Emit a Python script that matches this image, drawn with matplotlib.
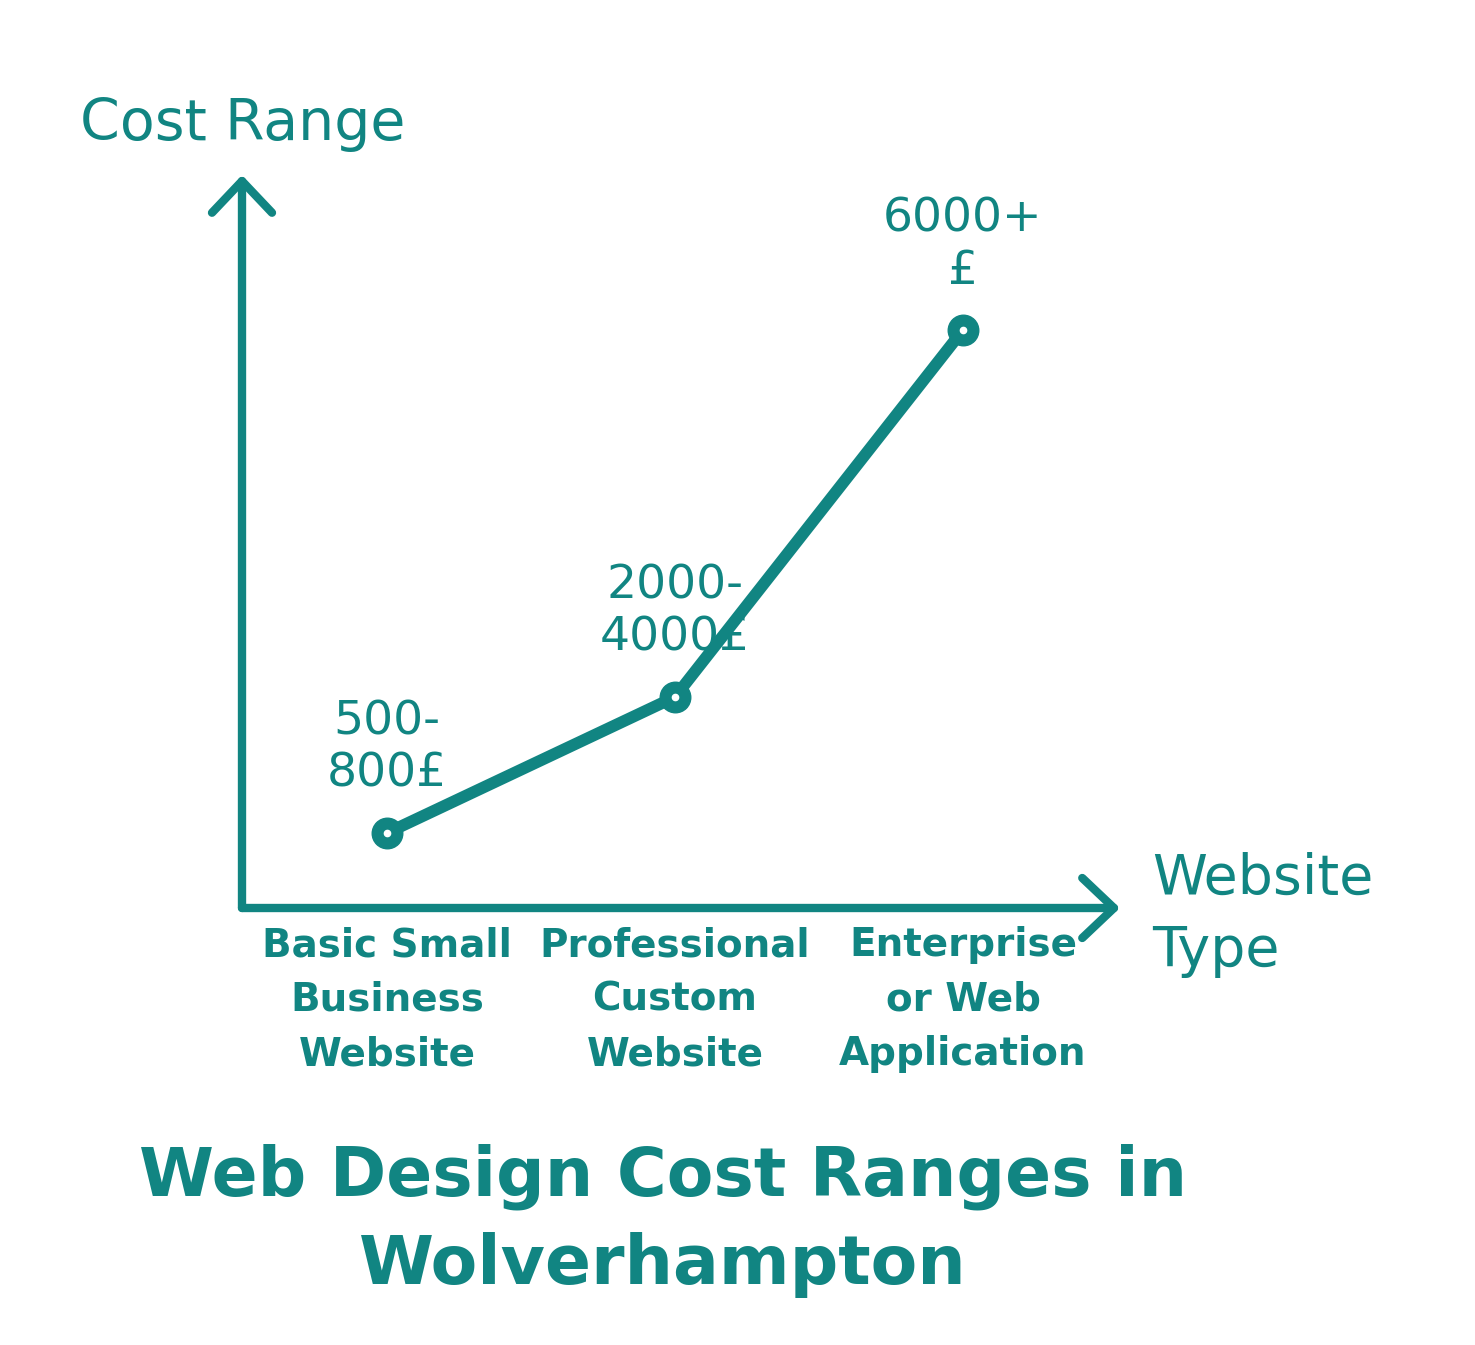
import matplotlib
matplotlib.use("Agg")
import matplotlib.pyplot as plt

# data (relative cost level, not to scale)
categories = ["Basic Small\nBusiness\nWebsite",
              "Professional\nCustom\nWebsite",
              "Enterprise\nor Web\nApplication"]
cost_level = [0.75, 2.11, 5.78]
cost_labels = ["500-\n800£", "2000-\n4000£", "6000+\n£"]

teal = '#118582'
plt.rcParams['font.family'] = ['DejaVu Sans']

fig = plt.figure(figsize=(14.75, 13.45), dpi=100)
W, H = 1475, 1345
# axes box in pixels: x 242..1120, y 175..908
ax = fig.add_axes([242 / W, 1 - 908 / H, (1120 - 242) / W, (908 - 175) / H])
ax.set_xlim(-0.503, 2.545)
ax.set_ylim(0, 7.33)
for s in ax.spines.values():
    s.set_visible(False)
ax.set_yticks([])

# hand drawn axes with open arrow heads
arrow = dict(arrowstyle='->,head_length=0.95,head_width=0.9', lw=6,
             color=teal, mutation_scale=24, capstyle='round',
             joinstyle='round', shrinkA=0, shrinkB=0)
ax.annotate('', xy=(0, 1), xytext=(0, 0), xycoords='axes fraction',
            arrowprops=arrow)
ax.annotate('', xy=(1, 0), xytext=(0, 0), xycoords='axes fraction',
            arrowprops=arrow)

x = list(range(len(categories)))
ax.plot(x, cost_level, color=teal, lw=8.5, solid_capstyle='round',
        solid_joinstyle='round', zorder=3)
ax.plot(x, cost_level, 'o', color=teal, ms=22, zorder=4)
ax.plot(x, cost_level, 'o', color='white', ms=4.5, zorder=5)

for xi, yi, lab in zip(x, cost_level, cost_labels):
    ax.annotate(lab, (xi, yi), xytext=(0, 26), textcoords='offset points',
                ha='center', va='bottom', multialignment='center',
                fontsize=34, color=teal, linespacing=1.22)

ax.set_xticks(x)
ax.set_xticklabels(categories, fontsize=28, fontweight='bold', color=teal,
                   linespacing=1.55)
ax.tick_params(axis='x', length=0, pad=13)

fig.text(80 / W, 1 - 125 / H, 'Cost Range', fontsize=41, color=teal,
         ha='left', va='center')
fig.text(1152 / W, 1 - 852 / H, 'Website\nType', fontsize=40, color=teal,
         ha='left', va='top', linespacing=1.42)

fig.text(663 / W, 1 - 1221 / H, 'Web Design Cost Ranges in\nWolverhampton',
         fontsize=49, fontweight='bold', color=teal, ha='center',
         va='center', linespacing=1.42)

fig.savefig('out.png', dpi=100, facecolor='white')
